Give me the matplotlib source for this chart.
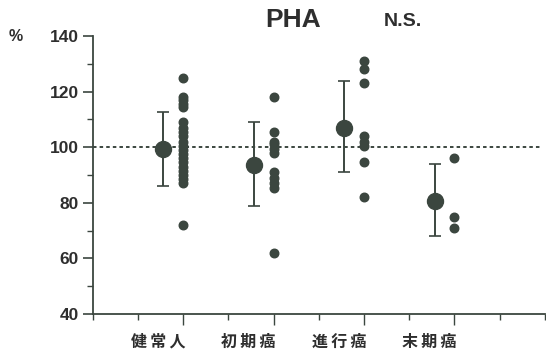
import numpy as np
import matplotlib.pyplot as plt
from matplotlib.ticker import MultipleLocator

plt.rcParams['font.family'] = ['Liberation Sans', 'Noto Sans CJK JP', 'DejaVu Sans']

groups = ["健常人", "初期癌", "進行癌", "末期癌"]
g1 = [125, 118, 117, 115.5, 114.5, 109, 107, 105.5, 104, 102, 100.5, 99, 97.5,
      96, 94.5, 93, 91.5, 90, 88.5, 87, 72]
g2 = [118, 105.5, 102, 101, 99.5, 98, 91, 89, 87, 85.5, 62]
g3 = [131, 128, 123, 104, 102, 100.5, 94.5, 82]
g4 = [96, 75, 71]
means = [99.5, 93.5, 107, 80.5]
sd_hi = [112.5, 109, 124, 94]
sd_lo = [86, 79, 91, 68]

col = "#3b463f"
txt = "#2e2e2e"
fig = plt.figure(figsize=(5.46, 3.5), dpi=100)
ax = fig.add_axes([0.170, 0.103, 0.828, 0.794])

for i, vals in enumerate([g1, g2, g3, g4]):
    x = i + 1
    ax.scatter(np.full(len(vals), x), vals, s=38, color=col, zorder=3)
    xm = x - 0.22
    ax.errorbar(xm, means[i],
                yerr=[[means[i] - sd_lo[i]], [sd_hi[i] - means[i]]],
                fmt="o", ms=11.5, color=col, ecolor=col, elinewidth=1.4,
                capsize=4, capthick=1.2, zorder=3)

ax.axhline(100, xmin=0, xmax=0.99, color=col, ls=(0, (1.8, 1.6)), lw=1.4, zorder=1)

ax.set_xlim(0, 5)
ax.set_ylim(40, 140)
ax.spines['top'].set_visible(False)
ax.spines['right'].set_visible(False)
for s in ['left', 'bottom']:
    ax.spines[s].set_color(col)
    ax.spines[s].set_linewidth(1.3)

ax.yaxis.set_major_locator(MultipleLocator(20))
ax.yaxis.set_minor_locator(MultipleLocator(10))
ax.tick_params(axis='y', which='major', length=7, width=1.2, color=col,
               labelsize=12.5, pad=3)
ax.tick_params(axis='y', which='minor', length=4, width=1.0, color=col)
for t in ax.get_yticklabels():
    t.set_fontweight('bold')
    t.set_color(txt)

ax.set_xticks([1, 2, 3, 4])
ax.set_xticklabels([])
ax.xaxis.set_minor_locator(MultipleLocator(0.5))
ax.tick_params(axis='x', which='major', length=8, width=1.0, color=col)
ax.tick_params(axis='x', which='minor', length=4, width=1.0, color=col)
for i, g in enumerate(groups):
    ax.text(i + 1 - 0.28, 30.0, "\u2009".join(g), ha='center', va='center',
            fontsize=11.5, fontweight='bold',
            family=['Noto Sans CJK JP', 'DejaVu Sans'], color=txt)

fig.text(0.015, 0.896, "%", fontsize=11.5, fontweight='bold', va='center', color=txt)
fig.text(0.537, 0.943, "PHA", fontsize=19, fontweight='bold', ha='center',
         va='center', color=txt)
fig.text(0.738, 0.94, "N.S.", fontsize=14, fontweight='bold', ha='center',
         va='center', color=txt)

fig.savefig("out.png", dpi=100)
